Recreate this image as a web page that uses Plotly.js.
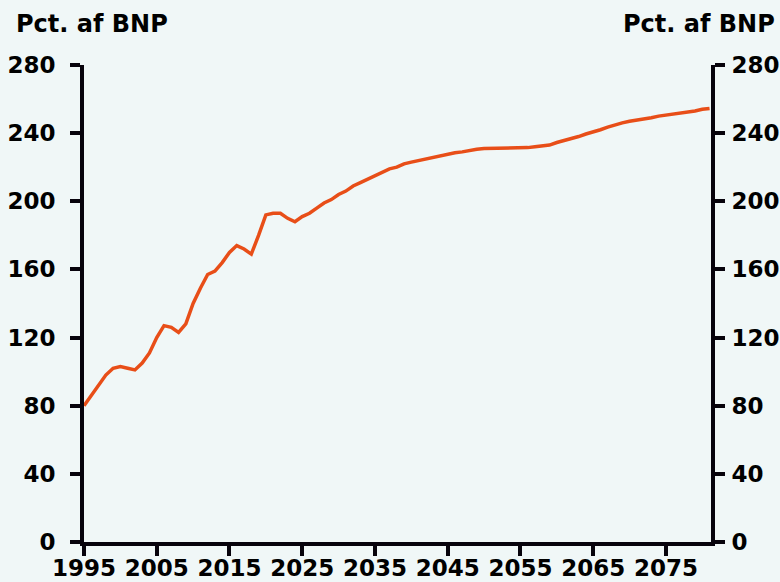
<!DOCTYPE html>
<html>
<head>
<meta charset="utf-8">
<script src="https://cdn.plot.ly/plotly-3.0.1.min.js"></script>
<style>html,body{margin:0;padding:0;background:#F0F7F7;}#chart{width:780px;height:582px;}</style>
</head>
<body>
<div id="chart"></div>
<script>
const years = [];
for (let y = 1995; y <= 2081; y++) years.push(y);
const debtPctGDP = [
  80, 86, 92, 98, 102, 103, 102, 101, 105, 111,
  120, 127, 126, 123, 128, 140, 149, 157, 159, 164,
  170, 174, 172, 169, 180, 192, 193, 193, 190, 188,
  191, 193, 196, 199, 201, 204, 206, 209, 211, 213,
  215, 217, 219, 220, 222, 223, 224, 225, 226, 227,
  228, 228.5, 229, 230, 230.5, 231, 231, 231, 231, 231,
  231, 231.5, 232, 232.5, 233, 234.5, 235.5, 236.5, 238, 239.5,
  240.5, 242, 243.5, 245, 246, 247, 247.5, 248.5, 249, 250,
  250.5, 251, 251.5, 252.5, 253, 254, 254.5
];
const xTicks = [1995, 2005, 2015, 2025, 2035, 2045, 2055, 2065, 2075];
const yTicks = [0, 40, 80, 120, 160, 200, 240, 280];
const unitLabel = 'Pct. af BNP';

const font = {family: 'DejaVu Sans, Arial, sans-serif', size: 24, color: '#000', weight: 'bold'};
const tickFont = {family: 'DejaVu Sans, Arial, sans-serif', size: 23, color: '#000', weight: 'bold'};
const axisCommon = {
  showline: true, linewidth: 4, linecolor: '#07030c',
  ticks: 'outside', ticklen: 10, tickwidth: 4, tickcolor: '#07030c',
  showgrid: false, zeroline: false, tickfont: tickFont
};

const data = [
  {x: years, y: debtPctGDP, type: 'scatter', mode: 'lines',
   line: {color: '#E84E18', width: 3.5}, hoverinfo: 'skip', showlegend: false},
  {x: years, y: debtPctGDP, type: 'scatter', mode: 'lines', yaxis: 'y2',
   line: {color: 'rgba(0,0,0,0)', width: 0}, hoverinfo: 'skip', showlegend: false}
];

const layout = {
  width: 780, height: 582,
  paper_bgcolor: '#F0F7F7', plot_bgcolor: '#F0F7F7',
  margin: {l: 84, r: 69, t: 65, b: 40},
  font: font,
  xaxis: Object.assign({}, axisCommon, {
    range: [1995, 2081.2], tickvals: xTicks, ticktext: xTicks.map(String),
    ticklabelstandoff: -8
  }),
  yaxis: Object.assign({}, axisCommon, {
    range: [0, 280], tickvals: yTicks, ticktext: yTicks.map(String),
    ticklabelstandoff: 10
  }),
  yaxis2: Object.assign({}, axisCommon, {
    range: [0, 280], tickvals: yTicks, ticktext: yTicks.map(String),
    overlaying: 'y', side: 'right', ticklabelstandoff: 2
  }),
  annotations: [
    {text: unitLabel, xref: 'paper', yref: 'paper', x: -0.1116, y: 1.12,
     xanchor: 'left', yanchor: 'top', showarrow: false, font: font},
    {text: unitLabel, xref: 'paper', yref: 'paper', x: 1.105, y: 1.12,
     xanchor: 'right', yanchor: 'top', showarrow: false, font: font}
  ]
};

Plotly.newPlot('chart', data, layout, {staticPlot: true, displayModeBar: false});
</script>
</body>
</html>
